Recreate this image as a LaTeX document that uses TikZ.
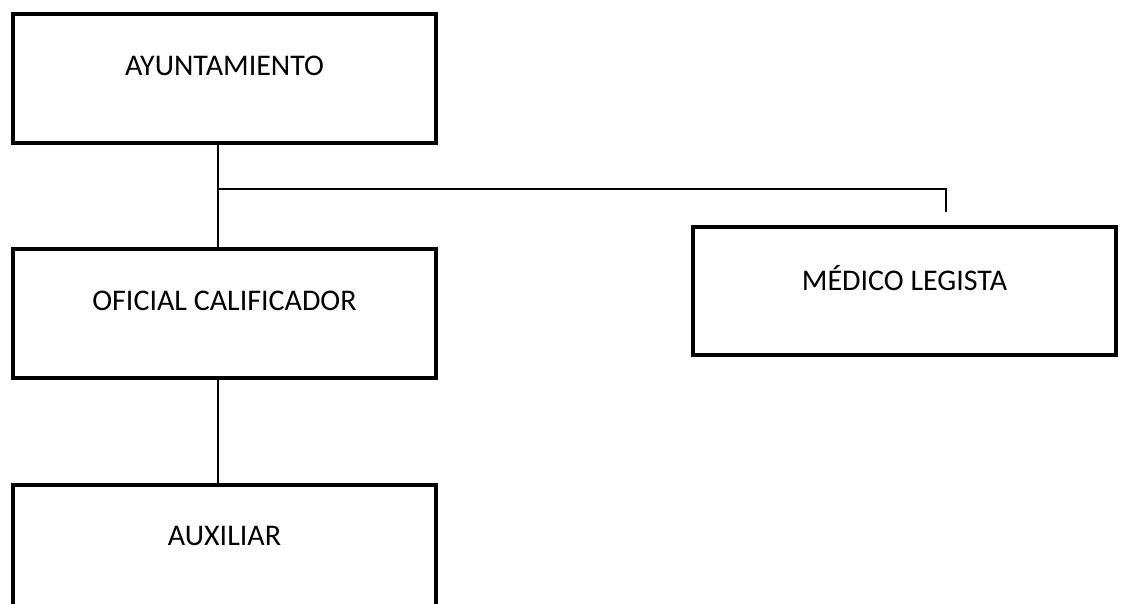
\documentclass[tikz,border=0pt]{standalone}
\usepackage{fontspec}
\setmainfont{Carlito}
\begin{document}
\begin{tikzpicture}[x=1pt,y=-1pt,
  orgbox/.style={draw=black,line width=4pt,rectangle,inner sep=0pt,
    minimum width=423pt,font=\fontsize{30}{36}\selectfont,anchor=north},
  conn/.style={draw=black,line width=1.6pt}]
\useasboundingbox (0,0) rectangle (1121,603);
\clip (0,0) rectangle (1121,603);
\fill[white] (0,0) rectangle (1121,603);
\node[orgbox,text height=61pt,text depth=68pt] (ayu) at (224.5,12) {AYUNTAMIENTO};
\node[orgbox,text height=61.5pt,text depth=67.5pt] (ofi) at (224.5,247) {OFICIAL CALIFICADOR};
\node[orgbox,text height=60.5pt,text depth=100pt] (aux) at (224.5,483) {AUXILIAR};
\node[orgbox,text height=63.5pt,text depth=64.5pt] (med) at (904.5,225) {MÉDICO LEGISTA};
\coordinate (br) at (218,189);
\coordinate (drop) at (946,212);
\draw[conn] ([xshift=-6.5pt]ayu.south) -- ([xshift=-6.5pt]ofi.north);
\draw[conn] (br) -| (drop);
\draw[conn] ([xshift=-6.5pt]ofi.south) -- ([xshift=-6.5pt]aux.north);
\end{tikzpicture}
\end{document}
